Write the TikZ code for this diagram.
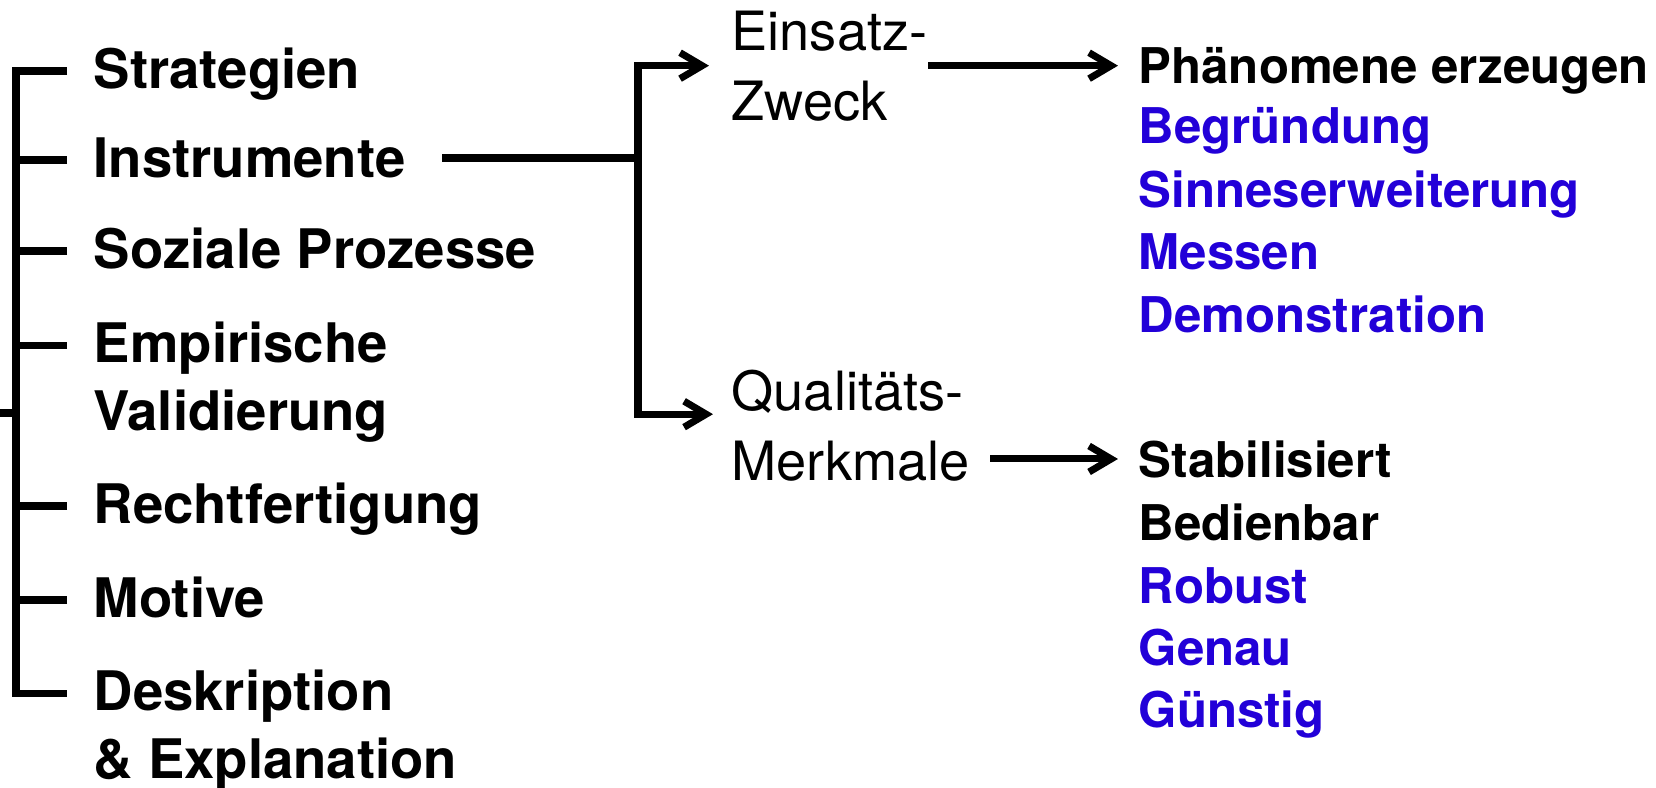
\documentclass[tikz,border=0pt]{standalone}
\usepackage{fontspec}
\setmainfont{TeX Gyre Heros}
\usetikzlibrary{arrows.meta,positioning,calc}
\definecolor{blu}{HTML}{2200D8}
\tikzset{
  item/.style={anchor=base west,inner sep=0pt,align=left,font=\fontsize{15.5}{19.2}\selectfont\bfseries},
  goal/.style={anchor=base west,inner sep=0pt,align=left,font=\fontsize{15.4}{19.9}\selectfont},
  res/.style={anchor=base west,inner sep=0pt,font=\fontsize{14}{17}\selectfont\bfseries},
  bres/.style={res,text=blu},
  br/.style={line width=2pt},
  ar/.style={line width=2pt,-{Straight Barb[length=2.2mm,width=2.6mm]}},
}

\begin{document}
\begin{tikzpicture}[x=0.01cm,y=-0.01cm]
  \useasboundingbox (0,0) rectangle (1656,787);

  % ---- left: list with bracket (two-line nodes sit on their last line)
  \node[item] (strat)  at (93,88)  {Strategien};
  \node[item] (instr)  at (93,177) {Instrumente};
  \node[item] (sozial) at (93,268) {Soziale Prozesse};
  \node[item] (empir)  at (93,430) {Empirische\\Validierung};
  \node[item] (recht)  at (93,523) {Rechtfertigung};
  \node[item] (motiv)  at (93,617) {Motive};
  \node[item] (deskr)  at (93,778) {Deskription\\\& Explanation};

  \coordinate (spine) at (16,413);
  \coordinate (root) at (0,413);
  \draw[br] ($(strat.base west)+(-26,-17)$) -| (spine)
            |- ($(deskr.base west)+(-26,-84.5)$);
  \foreach \n/\d in {instr/17,sozial/17,empir/84.5,recht/17,motiv/17}
    \draw[br] ($(\n.base west)+(-26,-\d)$) coordinate (t) -- (t -| spine);
  \draw[br] (root) -- (spine);

  % ---- middle: fork to purpose / quality
  \node[goal] (einsatz) at (731,120) {Einsatz-\\Zweck};
  \node[goal] (quali)   at (731,480) {Qualitäts-\\Merkmale};
  \draw[br] ($(instr.base east)+(36,-19)$) coordinate (s) -- (s -| 638,0) coordinate (fork);
  \draw[ar] (fork) |- ([xshift=-2.2mm]einsatz.west);
  \draw[ar] (fork) |- ([shift={(-1.8mm,1.1mm)}]quali.west);

  % ---- right: resulting lists
  \node[res] (phaen) at (1138,83) {Phänomene erzeugen};
  \foreach \n/\t/\y in {begr/Begründung/143,sinn/Sinneserweiterung/207,
                        mess/Messen/269,demo/Demonstration/332}
    \node[bres] (\n) at (1138,\y) {\t};
  \node[res] (stab)   at (1138,477) {Stabilisiert};
  \node[res] (bedien) at (1138,540) {Bedienbar};
  \foreach \n/\t/\y in {robust/Robust/603,genau/Genau/665,guenst/Günstig/727}
    \node[bres] (\n) at (1138,\y) {\t};

  \draw[ar] (einsatz.east) -- ([xshift=-2mm]einsatz.east -| phaen.west);
  \draw[ar] ([xshift=2mm]stab.west -| quali.east) -- ([xshift=-2mm]stab.west);
\end{tikzpicture}
\end{document}
